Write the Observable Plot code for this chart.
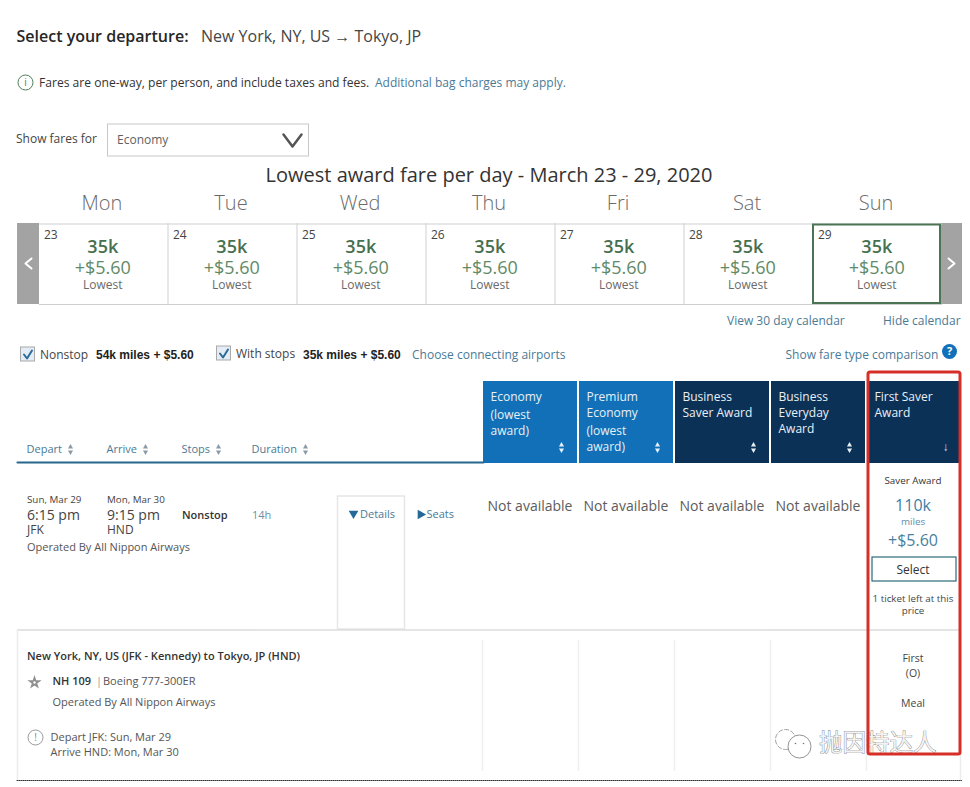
<!DOCTYPE html>
<html><head><meta charset="utf-8">
<script src="https://cdn.jsdelivr.net/npm/d3@7"></script>
<script src="https://cdn.jsdelivr.net/npm/@observablehq/plot@0.6"></script>
<style>html,body{margin:0;padding:0;background:#fff}svg{display:block}</style>
</head><body><div id="chart"></div>
<script>
const days = ["Mon","Tue","Wed","Thu","Fri","Sat","Sun"];
const dates = [23,24,25,26,27,28,29];
const miles = ["35k","35k","35k","35k","35k","35k","35k"];
const taxes = ["+$5.60","+$5.60","+$5.60","+$5.60","+$5.60","+$5.60","+$5.60"];
const notes = ["Lowest","Lowest","Lowest","Lowest","Lowest","Lowest","Lowest"];
const cabins = [
  ["Economy","(lowest","award)"],
  ["Premium","Economy","(lowest","award)"],
  ["Business","Saver Award"],
  ["Business","Everyday","Award"],
  ["First Saver","Award"]
];
const sortColumns = ["Depart","Arrive","Stops","Duration"];
const availability = ["Not available","Not available","Not available","Not available"];

// colours
const LINK="#4a7a96", GREEN="#47704f", GREEN2="#5f8a66", TXT="#3c3c3c", GREY="#5c5c5c";
const BLUE="#1270b8", NAVY="#0b3157", RED="#d62f27";
const OS="Open Sans", AR="Liberation Sans";

const marks=[];
const T=(s,x,y,size,fill=TXT,o={})=>marks.push(Plot.text([s],{text:d=>d,x:()=>x-1,y:()=>y,fontSize:size,fill,textAnchor:"start",fontFamily:OS,...o}));
const C=(s,x,y,size,fill=TXT,o={})=>T(s,x,y,size,fill,{textAnchor:"middle",...o});
const R=(x1,x2,y1,y2,o={})=>marks.push(Plot.rect([0],{x1:()=>x1,x2:()=>x2,y1:()=>y1,y2:()=>y2,...o}));
const L=(pts,stroke,w=1,o={})=>marks.push(Plot.line(pts,{x:d=>d[0],y:d=>d[1],stroke,strokeWidth:w,...o}));
const D=(x,y,r,o={})=>marks.push(Plot.dot([0],{x:()=>x,y:()=>y,r,...o}));
const tri=(x,y,r,rot,fill)=>marks.push(Plot.dot([0],{x:()=>x,y:()=>y,r,symbol:"triangle",rotate:()=>rot,fill,stroke:"none"}));
const sortArrows=(x,y,fill)=>{tri(x,y-2.5,1.9,0,fill);tri(x,y+2.5,1.9,180,fill);};

// header
T("Select your departure:",17,36,16,"#262626",{fontWeight:600});
T("New York, NY, US → Tokyo, JP",201.5,36,16,"#454545");
D(25,82,7.5,{stroke:"#4f7d5a",strokeWidth:1,fill:"none"});
C("i",26,82,10,"#4f7d5a");
T("Fares are one-way, per person, and include taxes and fees.",39.5,83,12.1,"#333");
T("Additional bag charges may apply.",375.5,83,12,LINK);
T("Show fares for",16.5,139,12,"#444");
R(107.5,308.5,124,156,{fill:"#fff",stroke:"#c8c8c8"});
T("Economy",117.5,140,12,"#5f5f5f");
L([[283,134],[292,146],[301,134]],"#555",2.5);
C("Lowest award fare per day - March 23 - 29, 2020",489.5,175,20,"#333");

// week calendar
const cellX=i=>39+129*i, cellC=i=>103.3+129*i;
days.forEach((d,i)=>C(d,cellC(i)-.8,203,20,"#6a6a6a",{fontWeight:300}));
R(17,39,223,304,{fill:"#a3a3a3"});
R(941,962,223,304,{fill:"#a3a3a3"});
L([[39,223.5],[941,223.5]],"#cfcfcf",1);
L([[39,304],[941,304]],"#cfcfcf",1.2);
days.forEach((d,i)=>{ if(i>0&&i<7) L([[cellX(i)-.5,223],[cellX(i)-.5,304]],"#cfcfcf",1); });
R(813,940,224.5,303,{fill:"#fff",stroke:"#4a7454",strokeWidth:2});
dates.forEach((d,i)=>T(String(d),cellX(i)+5.5,235,12,"#444"));
miles.forEach((m,i)=>C(m,cellC(i),247,18,GREEN,{fontWeight:600}));
taxes.forEach((m,i)=>C(m,cellC(i),268,18,GREEN2));
notes.forEach((m,i)=>C(m,cellC(i),285,12,"#6a6a6a"));
L([[31,258],[25,263],[31,268]],"#fff",2);
L([[948,258],[954,263],[948,268]],"#fff",2);
T("View 30 day calendar",727.5,321,12,LINK);
T("Hide calendar",883.5,321,12,LINK);

// filters
const check=(x,y)=>{R(x,x+14,y,y+14,{fill:"#e4edf5",stroke:"#a9a9a9"});L([[x+3,y+7],[x+6,y+11],[x+11,y+3]],"#2b6c9a",2);};
check(20.5,347);
T("Nonstop",40.5,355,12,"#444");
T("54k miles + $5.60",96.5,355,12,"#222",{fontFamily:AR,fontWeight:700});
check(216.5,346);
T("With stops",236.5,354,12,"#444");
T("35k miles + $5.60",303.5,355,12,"#222",{fontFamily:AR,fontWeight:700});
T("Choose connecting airports",412.5,355,12,LINK);
T("Show fare type comparison",786,355,12,LINK);
D(949,351,7.5,{fill:BLUE});
C("?",950,351,11,"#fff",{fontWeight:700});

// table head
const colX=i=>483+96*i;
const colFill=[BLUE,BLUE,NAVY,NAVY,NAVY];
const lineY=[[397,415,431],[397,413,431,447],[397,413],[397,413,429],[397,413]];
L([[17,462],[483,462]],"#26688c",2.2);
cabins.forEach((c,i)=>{
  R(colX(i),colX(i)+94,381,463,{fill:colFill[i]});
  c.forEach((s,k)=>T(s,colX(i)+8,lineY[i][k],12,"#e8f0f6"));
  if(i<4) sortArrows(colX(i)+78,447,"#e8f0f6");
});
C("↓",946,447,12,"#d5dde5");
const sortTextX=[27,107,182,252], sortArrowX=[70,145,218,305];
sortColumns.forEach((s,i)=>{T(s,sortTextX[i],449,11,LINK);sortArrows(sortArrowX[i],449,"#8a9aa5");});

// flight row
T("Sun, Mar 29",27.5,499,9.8,"#444");
T("6:15 pm",27.5,515,14,"#444");
T("JFK",27.5,530,12,"#444");
T("Mon, Mar 30",107.5,499,9.8,"#444");
T("9:15 pm",107.5,515,14,"#444");
T("HND",107.5,530,12,"#444");
T("Nonstop",182.5,515,11,"#333",{fontWeight:600});
T("14h",252.5,515,11,"#6d8fa3");
T("Operated By All Nippon Airways",27.5,547,11,"#555");
R(337.5,404.5,496,629,{fill:"#fff",stroke:"#e6e6e6",strokeWidth:1.5});
tri(353,513,3.6,180,"#24699a");
T("Details",360.5,514,11,LINK);
tri(420,514,3.6,90,"#24699a");
T("Seats",427,514,11,LINK);
availability.forEach((s,i)=>C(s,colX(i)+47.5,506,14,GREY));
C("Saver Award",913.5,480,9.8,"#333");
C("110k",913.5,505,16,"#3f7ea6");
C("miles",913.5,521,9.8,"#5b8dae");
C("+$5.60",913.5,540,16,"#4a7f9e");
R(872,956,557,581,{fill:"#fff",stroke:"#2b6a78",strokeWidth:1.2});
C("Select",913.5,570,12,"#333");
C("1 ticket left at this",913.5,598,9.8,"#444");
C("price",913.5,610,9.8,"#444");

// details panel
L([[17,629.5],[960,629.5]],"#dcdcdc",1.5);
L([[17,630],[17,780]],"#ececec",1.5);
L([[960,630],[960,780]],"#ececec",1.5);
[482,578,674,770,866].forEach(x=>L([[x,640],[x,770]],"#efefef",1.5));
T("New York, NY, US (JFK - Kennedy) to Tokyo, JP (HND)",27.5,656,11,"#333",{fontWeight:600});
D(34,682,4.5,{symbol:"star",fill:"#8f8f8f"});
D(34,682,1.2,{fill:"#fff"});
T("NH 109",53,681,11,"#333",{fontWeight:600});
T("|",96.5,681,11,"#999");
T("Boeing 777-300ER",103.5,681,11,"#555");
T("Operated By All Nippon Airways",53,702,11,"#555");
D(35,737,7.5,{stroke:"#999",strokeWidth:1,fill:"none"});
C("!",36,737,10,"#888");
T("Depart JFK: Sun, Mar 29",51,737,11,"#555");
T("Arrive HND: Mon, Mar 30",51,752,11,"#555");
C("First",913.5,658,10.5,"#444");
C("(O)",913.5,673,10.5,"#444");
C("Meal",913.5,703,10.5,"#444");
L([[16.5,780],[961,780]],"#333",1,{strokeDasharray:"1,1"});

// watermark
D(785,739,10,{fill:"#fff",stroke:"#888",strokeWidth:.8,strokeDasharray:"5,1.5"});
D(799,746,11.5,{fill:"#fff",stroke:"#777",strokeWidth:.8});
[[795,743],[803,743]].forEach(p=>D(p[0],p[1],.8,{fill:"#777"}));
T("抛因特达人",819.5,743,23.5,"#f3f3f3",{fontFamily:"Noto Sans CJK SC",stroke:"#707070",strokeWidth:.7});

// highlight
R(868,960,372,754,{fill:"none",stroke:RED,strokeWidth:3,rx:2});

document.getElementById("chart").append(Plot.plot({
  width:970,height:787,margin:0,
  x:{domain:[0,970],range:[0,970],axis:null},
  y:{domain:[0,787],range:[0,787],axis:null},
  style:{fontFamily:OS,background:"#fff"},
  marks
}));
</script></body></html>
